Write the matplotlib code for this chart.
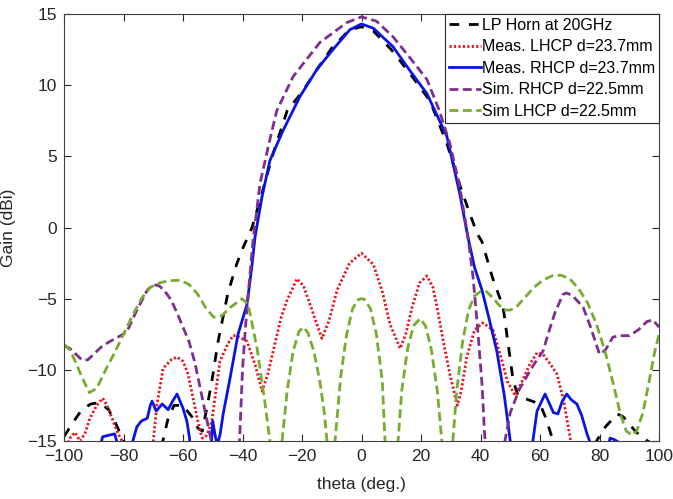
import matplotlib
matplotlib.use("Agg")
import matplotlib.pyplot as plt

plt.rcParams['font.family'] = ['Liberation Sans', 'DejaVu Sans']

# LP Horn at 20GHz
horn_theta = [-100, -97, -94, -91, -88, -85, -83, -81, -79.5, -78, -70, -67, -65, -63, -60, -57, -55, -53.5, -52,
              -50.3, -48.2, -44.9, -42, -40.2, -36.8, -34, -30, -25, -19.7, -15, -10, -4, 0, 4, 10, 16, 23, 28.7,
              33.8, 38.8, 40.5, 44, 47.6, 51, 52.6, 56, 60, 62, 64.4, 66, 75, 79, 82, 86, 88, 90, 92, 94.6, 97, 100]
horn_gain = [-14.7, -13.7, -12.8, -12.4, -12.3, -12.8, -13.6, -14.5, -15.2, -17, -17, -15.2, -13.4, -12.5, -12.5,
             -13.3, -14.1, -14.3, -12.7, -10.8, -8.0, -4.6, -2.6, -1.6, 0.0, 2.0, 5.0, 8.2, 9.6, 11.1, 12.6,
             13.9, 14.1, 13.8, 12.5, 10.9, 8.9, 5.9, 2.5, -0.4, -1.0, -3.5, -5.6, -10.8, -11.8, -12.1, -12.4,
             -13.4, -15.0, -17, -17, -15.0, -14.0, -13.1, -13.3, -13.8, -14.3, -14.8, -15.1, -15.2]

# Meas. LHCP d=23.7mm
mlhcp_theta = [-100, -98, -96.3, -94.6, -93, -91.3, -89, -87, -85.5, -83.5, -82, -80.5, -79.5, -71, -70, -68.8,
               -66.7, -64, -62, -60, -58.3, -56.6, -54.3, -53.5, -52, -50.3, -47.6, -45, -43.2, -41.9, -38.5,
               -35.8, -33.4, -31.5, -29.7, -27, -25, -21.7, -19.5, -17.3, -15, -13.3, -11, -8.2, -4, 0, 4, 7,
               9.6, 13, 15, 17, 19.5, 22, 24, 25.4, 27.5, 29.7, 32.2, 33.5, 35.4, 38, 40.8, 44.2, 47, 49, 51.6,
               54, 56.6, 59, 61, 63.5, 65.7, 68, 69.5, 70.5, 71.5, 100]
mlhcp_gain = [-16, -14.8, -14.4, -15.0, -14.5, -13.4, -12.5, -12.0, -12.5, -13.6, -14.4, -15.0, -17, -17, -15.0,
              -12.5, -9.9, -9.3, -9.1, -9.4, -10.3, -12.0, -14.3, -14.8, -14.6, -13.6, -9.4, -8.2, -7.6, -7.6,
              -8.0, -9.6, -11.5, -10.3, -8.7, -6.3, -5.1, -3.6, -4.1, -5.4, -6.8, -7.8, -6.6, -4.4, -2.5, -1.8,
              -2.6, -4.5, -6.8, -8.5, -7.4, -5.6, -3.9, -3.4, -4.2, -5.6, -8.0, -10.3, -12.5, -11.5, -9.1, -7.2,
              -6.7, -7.2, -9.2, -10.8, -11.8, -10.8, -9.6, -8.8, -8.9, -9.6, -10.3, -12.2, -14.0, -15.2, -17, -17]

# Meas. RHCP d=23.7mm
mrhcp_theta = [-100, -88, -87.5, -87, -85, -83, -82, -81, -78, -77, -75.5, -74, -72, -71, -70.4, -69, -67, -65,
               -63.5, -62, -61, -60, -58.7, -57.8, -57.3, -51, -50, -49.2, -48.5, -47.5, -46.5, -44.2, -41.5,
               -38.5, -37, -35.8, -33.5, -30.8, -26.4, -20.7, -15, -9.6, -3.9, 0, 4, 10.6, 16, 22, 28.7, 33,
               35.8, 38, 40.5, 43, 45.5, 48, 50, 51, 57, 57.6, 59, 61.7, 63, 64.5, 66, 67.5, 69, 70.5, 72.4, 74,
               75.8, 77, 78, 82, 83.5, 85, 86.5, 87, 100]
mrhcp_gain = [-17, -17, -15.1, -14.7, -14.6, -14.5, -15.2, -17, -17, -15.1, -14.0, -13.6, -13.4, -12.5, -12.2,
              -12.9, -12.4, -12.8, -12.2, -11.7, -12.2, -12.7, -13.6, -14.8, -17, -17, -13.6, -14.6, -15.3,
              -14.5, -13.1, -10.6, -7.5, -5.4, -3.0, -0.7, 2.1, 4.7, 6.8, 9.2, 11.1, 12.5, 13.9, 14.3, 14.0,
              12.7, 11.1, 9.4, 6.4, 2.4, -0.7, -2.8, -4.4, -6.5, -8.7, -11.8, -15.0, -17, -17, -15.0, -12.9,
              -11.7, -12.3, -13.0, -13.1, -12.2, -11.7, -12.1, -12.4, -13.2, -14.5, -15.2, -17, -17, -14.8,
              -14.9, -15.1, -17, -17]

# Sim. RHCP d=22.5mm
srhcp_theta = [-100, -98, -96, -94, -92, -90, -87, -84.5, -81, -78.8, -75.5, -72, -70, -68, -66, -64, -62, -60,
               -58, -56, -54, -52, -50.5, -49, -43, -41, -40, -39, -38, -36.5, -34.1, -31, -28.5, -23, -14,
               -4.9, 0, 5, 10.6, 16, 22, 26, 29.7, 33, 35.8, 37.5, 39, 40.5, 41.5, 42.5, 47, 48.2, 50, 53, 56,
               58, 61, 63, 65, 67.7, 69, 71, 74.5, 77, 80, 82, 84.5, 87, 90, 93, 96, 98, 100]
srhcp_gain = [-8.3, -8.5, -8.9, -9.3, -9.3, -8.9, -8.3, -8.0, -7.6, -7.3, -5.8, -4.4, -4.0, -4.1, -4.5, -5.1,
              -6.0, -7.0, -8.0, -9.5, -11.5, -13.5, -15.0, -17, -17, -15.0, -10.0, -7.0, -4.5, -1.0, 3.1, 6.0,
              8.2, 10.6, 13.0, 14.4, 14.8, 14.5, 13.4, 12.0, 10.4, 8.3, 5.9, 2.9, -0.7, -3.5, -7.0, -11.0,
              -15.0, -17, -17, -15.0, -13.0, -11.4, -10.3, -9.6, -8.7, -7.3, -6.0, -4.7, -4.6, -4.8, -5.6,
              -7.0, -8.9, -8.6, -7.7, -7.6, -7.6, -7.2, -6.6, -6.5, -7.0]

# Sim LHCP d=22.5mm
slhcp_theta = [-100, -98, -96, -94, -91.5, -89, -86, -83, -80, -77, -74, -71, -68, -65, -61, -58, -55, -52.5,
               -49.7, -47, -44, -40.2, -38.1, -35.1, -32.4, -30.8, -29.5, -27.5, -26.7, -25, -23, -21, -19.5,
               -18, -16, -14, -12.5, -11.6, -10.5, -9.5, -8.9, -7, -5, -3, -1, 0, 1, 3, 5, 7, 7.9, 9, 11, 12.3,
               13.5, 15.5, 17.5, 19.7, 21.5, 23.5, 25.5, 27, 28, 30, 30.7, 32, 34, 36, 38, 40, 42, 44, 46, 48,
               50, 52, 55, 58, 61, 64, 67, 70, 73, 76, 79, 82, 85, 87, 89, 91, 92.5, 94.6, 96.5, 98.5, 100]
slhcp_gain = [-8.2, -8.6, -9.5, -10.5, -11.6, -11.3, -10.0, -8.8, -7.5, -6.2, -5.0, -4.2, -3.9, -3.75, -3.7,
              -4.0, -4.7, -5.6, -6.3, -6.2, -5.6, -5.0, -5.4, -8.5, -12.4, -15.0, -18, -18, -15.0, -11.5, -8.7,
              -7.3, -7.0, -7.4, -8.7, -10.8, -13.0, -15.0, -18, -18, -15.0, -10.5, -7.5, -5.7, -5.05, -5.0,
              -5.05, -5.7, -7.5, -10.8, -15.0, -18, -18, -15.0, -11.5, -8.5, -6.9, -6.4, -6.9, -8.6, -11.5,
              -15.0, -18, -18, -15.0, -11.5, -8.0, -5.8, -4.8, -4.5, -4.5, -4.9, -5.4, -5.8, -5.8, -5.6, -4.9,
              -4.2, -3.7, -3.4, -3.35, -3.6, -4.3, -5.3, -6.8, -8.8, -11.3, -13.1, -14.3, -14.6, -14.3, -13.0,
              -11.0, -8.8, -7.5]

labels = ['LP Horn at 20GHz', 'Meas. LHCP d=23.7mm', 'Meas. RHCP d=23.7mm',
          'Sim. RHCP d=22.5mm', 'Sim LHCP d=22.5mm']
x_ticks = [-100, -80, -60, -40, -20, 0, 20, 40, 60, 80, 100]
y_ticks = [-15, -10, -5, 0, 5, 10, 15]

fig = plt.figure(figsize=(6.73, 4.99), dpi=100)
ax = fig.add_axes([64 / 673, (499 - 441) / 499, 595 / 673, 427 / 499])

lw = 2.0
ax.plot(horn_theta, horn_gain, color='black', lw=lw, dashes=(3.5, 3.5), label=labels[0])
ax.plot(mlhcp_theta, mlhcp_gain, color='#e8141c', lw=lw, dashes=(0.8, 0.8), label=labels[1])
ax.plot(mrhcp_theta, mrhcp_gain, color='#0a14e0', lw=lw, ls='-', label=labels[2])
ax.plot(srhcp_theta, srhcp_gain, color='#7e2f8e', lw=lw, dashes=(3.2, 1.6), label=labels[3])
ax.plot(slhcp_theta, slhcp_gain, color='#77ac30', lw=lw, dashes=(3.2, 1.6), label=labels[4])

ax.set_xlim(-100, 100)
ax.set_ylim(-15, 15)
ax.set_xticks(x_ticks)
ax.set_yticks(y_ticks)
ax.tick_params(direction='in', top=True, right=True, length=5, width=0.8,
               labelsize=12.5, colors='#262626')
ax.tick_params(axis='x', pad=6)
ax.tick_params(axis='y', pad=5)
for sp in ax.spines.values():
    sp.set_color('#404040')
    sp.set_linewidth(0.8)

ax.set_xlabel('theta (deg.)', fontsize=12.5, color='#262626', labelpad=9)
ax.set_ylabel('Gain (dBi)', fontsize=12.5, color='#262626', labelpad=8)

leg = ax.legend(loc='upper right', fontsize=11.5, handlelength=2.0, handletextpad=0.05,
                labelspacing=0.4, borderpad=0.25, borderaxespad=0.0, fancybox=False,
                framealpha=1, edgecolor='#262626')
leg.get_frame().set_linewidth(0.8)

fig.savefig('out.png', dpi=100)
